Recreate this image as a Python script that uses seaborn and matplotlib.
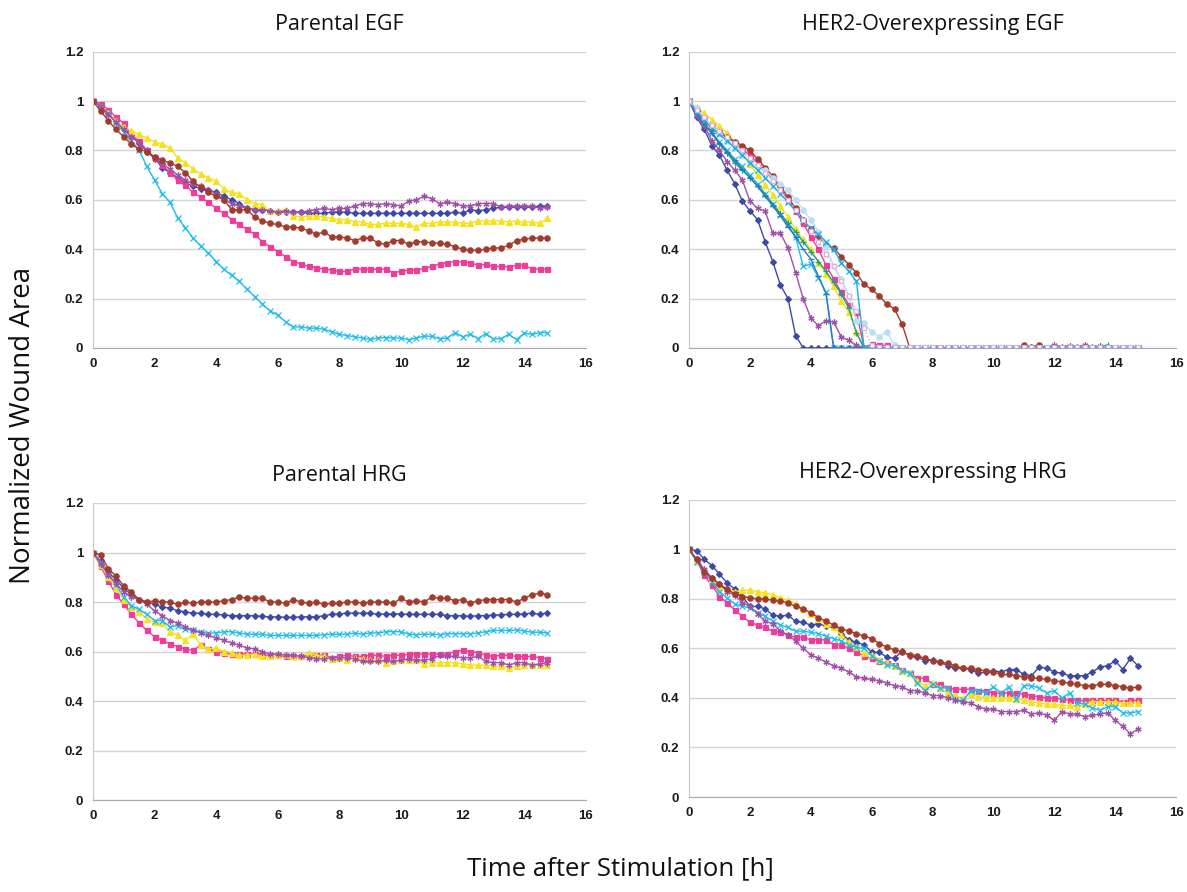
import numpy as np
import pandas as pd
import matplotlib
matplotlib.use("Agg")
import matplotlib.pyplot as plt
import seaborn as sns

# time axis: one frame every 15 min, 0 .. 14.75 h
time = [i * 0.25 for i in range(60)]

# colours / markers (Excel-like default series styles)
BLUE, PINK, YELLOW, CYAN, PURPLE, BROWN = '#3D49A6', '#F03C98', '#F4E21E', '#1FBDEB', '#A150A9', '#A33B2C'
TEAL, MIDBLUE, PALECYAN, CYAN2, PALEPINK = '#1F9C8C', '#2C74C4', '#B9E0F4', '#12AEEA', '#E3AEDB'
STAR = (6, 2, 0)

# ---------------- Parental EGF ----------------
pe_blue = [1, 0.98, 0.95, 0.92, 0.89, 0.86, 0.83, 0.795, 0.77, 0.73, 0.71, 0.69, 0.67, 0.655, 0.645,
           0.64, 0.63, 0.615, 0.60, 0.585, 0.565, 0.56, 0.56, 0.555, 0.55, 0.55, 0.55, 0.55, 0.545, 0.545,
           0.545, 0.55, 0.55, 0.55, 0.545, 0.545, 0.545, 0.545, 0.545, 0.545, 0.545, 0.545, 0.545, 0.545,
           0.545, 0.545, 0.545, 0.55, 0.545, 0.56, 0.555, 0.56, 0.565, 0.57, 0.57, 0.57, 0.57, 0.57, 0.575, 0.575]
pe_pink = [1, 0.99, 0.965, 0.935, 0.91, 0.86, 0.84, 0.80, 0.77, 0.74, 0.71, 0.68, 0.66, 0.63, 0.61,
           0.59, 0.565, 0.545, 0.52, 0.50, 0.48, 0.46, 0.43, 0.41, 0.39, 0.37, 0.35, 0.34, 0.33, 0.325,
           0.32, 0.315, 0.31, 0.31, 0.32, 0.32, 0.32, 0.318, 0.32, 0.305, 0.31, 0.316, 0.315, 0.322, 0.33,
           0.34, 0.345, 0.35, 0.348, 0.345, 0.335, 0.338, 0.33, 0.33, 0.328, 0.335, 0.335, 0.32, 0.32, 0.318]
pe_yellow = [1, 0.98, 0.95, 0.92, 0.895, 0.88, 0.865, 0.85, 0.835, 0.825, 0.81, 0.77, 0.75, 0.725, 0.705,
             0.69, 0.675, 0.645, 0.63, 0.625, 0.60, 0.585, 0.58, 0.555, 0.555, 0.56, 0.535, 0.53, 0.535, 0.535,
             0.53, 0.525, 0.52, 0.52, 0.51, 0.51, 0.50, 0.50, 0.505, 0.505, 0.505, 0.50, 0.49, 0.505, 0.505,
             0.51, 0.51, 0.51, 0.505, 0.505, 0.515, 0.515, 0.515, 0.515, 0.51, 0.515, 0.51, 0.51, 0.505, 0.525]
pe_cyan = [1, 0.98, 0.95, 0.91, 0.875, 0.84, 0.80, 0.735, 0.68, 0.625, 0.59, 0.527, 0.487, 0.444, 0.413,
           0.383, 0.35, 0.318, 0.294, 0.269, 0.238, 0.208, 0.177, 0.15, 0.133, 0.106, 0.085, 0.085, 0.08, 0.08,
           0.075, 0.065, 0.055, 0.05, 0.045, 0.04, 0.035, 0.04, 0.042, 0.04, 0.04, 0.033, 0.04, 0.048, 0.047,
           0.038, 0.04, 0.062, 0.045, 0.055, 0.038, 0.058, 0.036, 0.038, 0.055, 0.033, 0.06, 0.055, 0.062, 0.062]
pe_purple = [1, 0.98, 0.945, 0.915, 0.885, 0.855, 0.83, 0.80, 0.765, 0.745, 0.725, 0.70, 0.68, 0.665, 0.655,
             0.64, 0.625, 0.60, 0.585, 0.575, 0.565, 0.56, 0.56, 0.555, 0.55, 0.555, 0.55, 0.55, 0.555, 0.56,
             0.565, 0.56, 0.565, 0.565, 0.575, 0.585, 0.585, 0.58, 0.585, 0.58, 0.575, 0.595, 0.60, 0.615, 0.605,
             0.585, 0.59, 0.585, 0.575, 0.575, 0.585, 0.585, 0.585, 0.57, 0.575, 0.575, 0.575, 0.575, 0.565, 0.57]
pe_brown = [1, 0.96, 0.92, 0.885, 0.855, 0.825, 0.805, 0.795, 0.775, 0.76, 0.75, 0.735, 0.71, 0.675, 0.65,
            0.63, 0.615, 0.60, 0.56, 0.56, 0.56, 0.53, 0.515, 0.505, 0.50, 0.49, 0.49, 0.485, 0.475, 0.46,
            0.47, 0.45, 0.45, 0.445, 0.435, 0.445, 0.445, 0.425, 0.42, 0.435, 0.435, 0.42, 0.43, 0.43, 0.425,
            0.425, 0.42, 0.41, 0.40, 0.395, 0.395, 0.40, 0.405, 0.405, 0.415, 0.435, 0.44, 0.445, 0.445, 0.445]

# ---------------- HER2-Overexpressing EGF ----------------
he_blue = [1, 0.935, 0.885, 0.82, 0.78, 0.72, 0.665, 0.595, 0.555, 0.52, 0.43, 0.35, 0.255, 0.20, 0.05,
           0, 0, 0, 0, 0, 0, 0, 0, 0, 0, 0, 0, 0, 0, 0,
           0, 0, 0, 0, 0, 0, 0, 0, 0, 0, 0, 0, 0, 0, 0,
           0, 0, 0, 0, 0, 0, 0, 0, 0, 0, 0, 0, 0, 0, 0]
he_pink = [1, 0.96, 0.93, 0.90, 0.88, 0.855, 0.83, 0.805, 0.78, 0.75, 0.72, 0.685, 0.645, 0.60, 0.555,
           0.505, 0.45, 0.40, 0.335, 0.28, 0.225, 0.175, 0.145, 0.0, 0.015, 0.01, 0.01, 0, 0, 0,
           0, 0, 0, 0, 0, 0, 0, 0, 0, 0, 0, 0, 0, 0, 0,
           0, 0, 0, 0, 0, 0, 0, 0, 0, 0, 0, 0, 0, 0, 0]
he_yellow = [1, 0.975, 0.95, 0.925, 0.90, 0.87, 0.835, 0.79, 0.745, 0.70, 0.66, 0.62, 0.575, 0.53, 0.48,
             0.44, 0.40, 0.345, 0.30, 0.25, 0.19, 0.145, 0.065, 0, 0, 0, 0, 0, 0, 0,
             0, 0, 0, 0, 0, 0, 0, 0, 0, 0, 0, 0, 0, 0, 0,
             0, 0, 0, 0, 0, 0, 0, 0, 0, 0, 0, 0, 0, 0, 0]
he_cyan = [1, 0.95, 0.905, 0.87, 0.835, 0.80, 0.765, 0.735, 0.70, 0.665, 0.625, 0.585, 0.54, 0.50, 0.45,
           0.33, 0.34, 0.285, 0.225, 0, 0, 0, 0, 0, 0, 0, 0, 0, 0, 0,
           0, 0, 0, 0, 0, 0, 0, 0, 0, 0, 0, 0, 0, 0, 0,
           0, 0, 0, 0, 0, 0, 0, 0, 0, 0, 0, 0, 0, 0, 0]
he_purple = [1, 0.94, 0.90, 0.84, 0.80, 0.755, 0.72, 0.68, 0.595, 0.565, 0.555, 0.465, 0.465, 0.405, 0.305,
             0.20, 0.12, 0.09, 0.11, 0.105, 0.045, 0.03, 0.01, 0, 0, 0, 0, 0, 0, 0,
             0, 0, 0, 0, 0, 0, 0, 0, 0, 0, 0, 0, 0, 0, 0,
             0, 0, 0, 0.012, 0.005, 0.008, 0.005, 0.01, 0.005, 0.008, 0.005, 0, 0, 0, 0]
he_brown = [1, 0.96, 0.92, 0.89, 0.87, 0.855, 0.835, 0.82, 0.80, 0.765, 0.73, 0.695, 0.655, 0.61, 0.565,
            0.52, 0.48, 0.455, 0.415, 0.404, 0.37, 0.337, 0.304, 0.257, 0.237, 0.21, 0.177, 0.157, 0.096, 0,
            0, 0, 0, 0, 0, 0, 0, 0, 0, 0, 0, 0, 0, 0, 0.01,
            0.005, 0.01, 0, 0, 0, 0, 0, 0, 0, 0, 0, 0, 0, 0, 0]
he_teal = [1, 0.95, 0.91, 0.87, 0.825, 0.79, 0.75, 0.72, 0.69, 0.655, 0.62, 0.58, 0.545, 0.505, 0.47,
           0.43, 0.39, 0.35, 0.31, 0.265, 0.22, 0.16, 0.06, 0, 0, 0, 0, 0, 0, 0,
           0, 0, 0, 0, 0, 0, 0, 0, 0, 0, 0, 0, 0, 0, 0,
           0, 0, 0, 0, 0, 0, 0, 0, 0, 0.005, 0.012, 0, 0, 0, 0]
he_midblue = [1, 0.95, 0.91, 0.87, 0.83, 0.795, 0.76, 0.725, 0.69, 0.655, 0.615, 0.575, 0.535, 0.49, 0.45,
              0.40, 0.36, 0.29, 0.22, 0, 0, 0, 0, 0, 0, 0, 0, 0, 0, 0,
              0, 0, 0, 0, 0, 0, 0, 0, 0, 0, 0, 0, 0, 0, 0,
              0, 0, 0, 0, 0, 0, 0, 0, 0, 0, 0, 0, 0, 0, 0]
he_palecyan = [1, 0.97, 0.93, 0.90, 0.87, 0.84, 0.81, 0.78, 0.755, 0.735, 0.72, 0.69, 0.665, 0.64, 0.60,
               0.56, 0.52, 0.47, 0.41, 0.33, 0.28, 0.21, 0.11, 0.10, 0.063, 0.045, 0.066, 0.01, 0, 0,
               0, 0, 0, 0, 0, 0, 0, 0, 0, 0, 0, 0, 0, 0, 0,
               0, 0, 0, 0, 0, 0, 0, 0, 0, 0, 0, 0, 0, 0, 0]
he_cyan2 = [1, 0.955, 0.92, 0.89, 0.865, 0.84, 0.81, 0.78, 0.75, 0.72, 0.69, 0.655, 0.625, 0.59, 0.555,
            0.515, 0.485, 0.46, 0.43, 0.40, 0.345, 0.31, 0.27, 0, 0, 0, 0, 0, 0, 0,
            0, 0, 0, 0, 0, 0, 0, 0, 0, 0, 0, 0, 0, 0, 0,
            0, 0, 0, 0, 0, 0, 0, 0, 0, 0, 0, 0, 0, 0, 0]
he_palepink = [1, 0.965, 0.935, 0.905, 0.88, 0.855, 0.83, 0.80, 0.77, 0.74, 0.71, 0.675, 0.64, 0.60, 0.56,
               0.52, 0.475, 0.43, 0.38, 0.33, 0.27, 0.21, 0.15, 0.08, 0.01, 0.005, 0.005, 0.005, 0.005, 0.005,
               0.005, 0.005, 0.005, 0.005, 0.005, 0.005, 0.005, 0.005, 0.005, 0.005, 0.005, 0.005, 0.005, 0.005, 0.005,
               0.005, 0.005, 0.005, 0.005, 0.005, 0.005, 0.005, 0.005, 0.005, 0.005, 0.005, 0.005, 0.005, 0.005, 0.005]

# ---------------- Parental HRG ----------------
ph_blue = [1, 0.965, 0.92, 0.89, 0.855, 0.83, 0.81, 0.80, 0.79, 0.78, 0.775, 0.765, 0.76, 0.755, 0.755,
           0.75, 0.75, 0.748, 0.745, 0.745, 0.745, 0.745, 0.742, 0.74, 0.74, 0.738, 0.738, 0.74, 0.74, 0.74,
           0.745, 0.75, 0.752, 0.755, 0.755, 0.755, 0.755, 0.75, 0.752, 0.752, 0.752, 0.75, 0.75, 0.75, 0.75,
           0.75, 0.745, 0.745, 0.745, 0.742, 0.745, 0.745, 0.748, 0.748, 0.75, 0.75, 0.752, 0.755, 0.75, 0.757]
ph_pink = [1, 0.945, 0.885, 0.83, 0.79, 0.75, 0.715, 0.685, 0.66, 0.645, 0.63, 0.62, 0.61, 0.605, 0.625,
           0.61, 0.60, 0.595, 0.59, 0.59, 0.59, 0.59, 0.585, 0.585, 0.585, 0.58, 0.58, 0.58, 0.585, 0.585,
           0.585, 0.575, 0.58, 0.585, 0.58, 0.58, 0.585, 0.585, 0.58, 0.585, 0.585, 0.588, 0.59, 0.59, 0.59,
           0.59, 0.588, 0.60, 0.605, 0.60, 0.595, 0.585, 0.58, 0.585, 0.585, 0.58, 0.58, 0.58, 0.575, 0.57]
ph_yellow = [1, 0.95, 0.90, 0.855, 0.81, 0.78, 0.76, 0.73, 0.72, 0.715, 0.68, 0.665, 0.645, 0.67, 0.625,
             0.61, 0.615, 0.60, 0.595, 0.585, 0.585, 0.59, 0.58, 0.58, 0.585, 0.585, 0.58, 0.58, 0.595, 0.585,
             0.58, 0.57, 0.575, 0.565, 0.575, 0.57, 0.565, 0.565, 0.555, 0.56, 0.565, 0.565, 0.565, 0.55, 0.555,
             0.555, 0.555, 0.555, 0.55, 0.545, 0.545, 0.545, 0.54, 0.54, 0.535, 0.54, 0.545, 0.545, 0.545, 0.545]
ph_cyan = [1, 0.96, 0.91, 0.87, 0.82, 0.785, 0.77, 0.75, 0.725, 0.725, 0.70, 0.705, 0.69, 0.685, 0.68,
           0.675, 0.675, 0.68, 0.68, 0.675, 0.67, 0.67, 0.67, 0.665, 0.665, 0.665, 0.665, 0.665, 0.665, 0.665,
           0.668, 0.67, 0.67, 0.67, 0.675, 0.67, 0.675, 0.675, 0.68, 0.68, 0.68, 0.67, 0.668, 0.67, 0.67,
           0.668, 0.672, 0.672, 0.672, 0.672, 0.675, 0.68, 0.685, 0.685, 0.685, 0.687, 0.683, 0.678, 0.678, 0.675]
ph_purple = [1, 0.955, 0.91, 0.875, 0.84, 0.82, 0.81, 0.79, 0.765, 0.745, 0.725, 0.715, 0.70, 0.685, 0.675,
             0.665, 0.655, 0.645, 0.635, 0.625, 0.615, 0.61, 0.60, 0.59, 0.59, 0.585, 0.585, 0.58, 0.575, 0.57,
             0.57, 0.575, 0.575, 0.575, 0.57, 0.56, 0.56, 0.56, 0.565, 0.56, 0.565, 0.57, 0.565, 0.565, 0.57,
             0.585, 0.58, 0.58, 0.575, 0.575, 0.58, 0.56, 0.555, 0.555, 0.545, 0.555, 0.555, 0.545, 0.55, 0.555]
ph_brown = [1, 0.99, 0.935, 0.905, 0.865, 0.84, 0.81, 0.80, 0.805, 0.80, 0.80, 0.79, 0.80, 0.795, 0.80,
            0.80, 0.80, 0.805, 0.81, 0.82, 0.815, 0.815, 0.815, 0.80, 0.80, 0.795, 0.81, 0.80, 0.795, 0.80,
            0.79, 0.795, 0.795, 0.80, 0.80, 0.795, 0.80, 0.80, 0.80, 0.795, 0.815, 0.80, 0.805, 0.80, 0.82,
            0.815, 0.815, 0.805, 0.81, 0.795, 0.805, 0.81, 0.81, 0.81, 0.81, 0.80, 0.815, 0.83, 0.835, 0.83]

# ---------------- HER2-Overexpressing HRG ----------------
hh_blue = [1, 0.995, 0.96, 0.935, 0.90, 0.865, 0.84, 0.81, 0.77, 0.77, 0.76, 0.735, 0.73, 0.735, 0.71,
           0.705, 0.695, 0.70, 0.69, 0.685, 0.66, 0.635, 0.625, 0.615, 0.585, 0.585, 0.565, 0.56, 0.59, 0.57,
           0.565, 0.55, 0.555, 0.545, 0.53, 0.52, 0.52, 0.515, 0.50, 0.505, 0.51, 0.505, 0.515, 0.515, 0.495,
           0.49, 0.525, 0.52, 0.505, 0.50, 0.49, 0.49, 0.49, 0.505, 0.525, 0.53, 0.55, 0.515, 0.56, 0.53]
hh_pink = [1, 0.955, 0.895, 0.855, 0.81, 0.785, 0.755, 0.73, 0.705, 0.695, 0.685, 0.67, 0.665, 0.655, 0.645,
           0.645, 0.635, 0.635, 0.635, 0.615, 0.615, 0.60, 0.585, 0.57, 0.56, 0.55, 0.54, 0.535, 0.515, 0.50,
           0.48, 0.48, 0.455, 0.455, 0.44, 0.435, 0.435, 0.435, 0.43, 0.43, 0.42, 0.42, 0.42, 0.42, 0.415,
           0.41, 0.405, 0.40, 0.40, 0.395, 0.39, 0.39, 0.39, 0.39, 0.39, 0.39, 0.39, 0.385, 0.39, 0.39]
hh_yellow = [1, 0.955, 0.915, 0.88, 0.85, 0.84, 0.83, 0.835, 0.835, 0.83, 0.825, 0.815, 0.805, 0.795, 0.78,
             0.76, 0.74, 0.72, 0.70, 0.685, 0.655, 0.625, 0.605, 0.58, 0.575, 0.555, 0.54, 0.53, 0.51, 0.50,
             0.47, 0.45, 0.46, 0.44, 0.42, 0.41, 0.40, 0.415, 0.405, 0.40, 0.40, 0.40, 0.40, 0.395, 0.39,
             0.385, 0.38, 0.375, 0.375, 0.37, 0.37, 0.365, 0.375, 0.385, 0.385, 0.385, 0.385, 0.38, 0.38, 0.38]
hh_cyan = [1, 0.95, 0.91, 0.87, 0.83, 0.805, 0.78, 0.77, 0.765, 0.745, 0.73, 0.71, 0.695, 0.685, 0.67,
           0.67, 0.665, 0.66, 0.65, 0.64, 0.63, 0.615, 0.605, 0.60, 0.57, 0.55, 0.535, 0.53, 0.51, 0.50,
           0.46, 0.43, 0.455, 0.44, 0.44, 0.39, 0.39, 0.43, 0.43, 0.42, 0.445, 0.42, 0.445, 0.395, 0.45,
           0.45, 0.44, 0.42, 0.43, 0.40, 0.42, 0.38, 0.375, 0.36, 0.35, 0.365, 0.365, 0.34, 0.34, 0.345]
hh_purple = [1, 0.96, 0.92, 0.885, 0.86, 0.83, 0.815, 0.785, 0.77, 0.74, 0.71, 0.70, 0.67, 0.655, 0.63,
             0.60, 0.575, 0.56, 0.545, 0.53, 0.52, 0.505, 0.485, 0.48, 0.475, 0.47, 0.46, 0.45, 0.445, 0.43,
             0.43, 0.42, 0.41, 0.41, 0.40, 0.39, 0.385, 0.38, 0.365, 0.355, 0.355, 0.345, 0.345, 0.345, 0.35,
             0.335, 0.34, 0.33, 0.31, 0.345, 0.335, 0.335, 0.325, 0.33, 0.335, 0.34, 0.31, 0.285, 0.255, 0.275]
hh_brown = [1, 0.96, 0.91, 0.885, 0.86, 0.84, 0.82, 0.81, 0.805, 0.80, 0.80, 0.795, 0.79, 0.785, 0.77,
            0.76, 0.745, 0.725, 0.71, 0.695, 0.68, 0.67, 0.66, 0.65, 0.64, 0.62, 0.605, 0.595, 0.585, 0.575,
            0.57, 0.56, 0.55, 0.545, 0.54, 0.53, 0.52, 0.52, 0.515, 0.51, 0.505, 0.495, 0.495, 0.49, 0.485,
            0.48, 0.48, 0.475, 0.47, 0.465, 0.46, 0.455, 0.45, 0.45, 0.455, 0.455, 0.45, 0.445, 0.44, 0.445]

# (values, colour, marker, linestyle, filled)
panels = [
    ('Parental EGF', [(pe_blue, BLUE, 'D', '-', True), (pe_pink, PINK, 's', '-', True),
                      (pe_yellow, YELLOW, '^', '-', True), (pe_cyan, CYAN, 'x', '-', True),
                      (pe_purple, PURPLE, STAR, '-', True), (pe_brown, BROWN, 'o', '-', True)]),
    ('HER2-Overexpressing EGF', [(he_blue, BLUE, 'D', '-', True), (he_pink, PINK, 's', '-', True),
                                 (he_yellow, YELLOW, '^', '-', True), (he_cyan, CYAN, 'x', '-', True),
                                 (he_purple, PURPLE, STAR, '-', True), (he_brown, BROWN, 'o', '-', True),
                                 (he_teal, TEAL, '+', '-', True), (he_midblue, MIDBLUE, '_', '-', True),
                                 (he_palecyan, PALECYAN, 'o', '-', True), (he_cyan2, CYAN2, 'x', '-', True),
                                 (he_palepink, PALEPINK, 's', ':', False)]),
    ('Parental HRG', [(ph_blue, BLUE, 'D', '-', True), (ph_pink, PINK, 's', '-', True),
                      (ph_yellow, YELLOW, '^', '-', True), (ph_cyan, CYAN, 'x', '-', True),
                      (ph_purple, PURPLE, STAR, '-', True), (ph_brown, BROWN, 'o', '-', True)]),
    ('HER2-Overexpressing HRG', [(hh_blue, BLUE, 'D', '-', True), (hh_pink, PINK, 's', '-', True),
                                 (hh_yellow, YELLOW, '^', '-', True), (hh_cyan, CYAN, 'x', '-', True),
                                 (hh_purple, PURPLE, STAR, '-', True), (hh_brown, BROWN, 'o', '-', True)]),
]

marker_size = {'D': 3.0, 's': 3.6, '^': 4.0, 'x': 4.0, 'o': 3.8, '+': 4.2, '_': 4.2}

# axes boxes in figure fractions [left, bottom, width, height]
boxes = [[0.0783, 0.610, 0.4153, 0.332], [0.5805, 0.610, 0.4103, 0.332],
         [0.0783, 0.1031, 0.4153, 0.333], [0.5805, 0.1065, 0.4103, 0.333]]

sns.set_style('white')
plt.rcParams['font.family'] = ['Open Sans', 'DejaVu Sans']

fig = plt.figure(figsize=(11.87, 8.92), dpi=100)

for (title, series), box in zip(panels, boxes):
    ax = fig.add_axes(box)
    for vals, col, mk, ls, filled in series:
        assert len(vals) == len(time)
        ms = marker_size.get(mk, 4.2) if isinstance(mk, str) else 4.4
        sns.lineplot(x=time, y=vals, ax=ax, color=col, linewidth=1.0, linestyle=ls,
                     marker=mk, markersize=ms if filled else 3.0, markeredgecolor=col,
                     markerfacecolor=col if filled else 'white', markeredgewidth=0.9)
    ax.set_xlim(0, 16)
    ax.set_ylim(0, 1.2)
    ax.set_xticks(range(0, 17, 2))
    ax.set_yticks([0, 0.2, 0.4, 0.6, 0.8, 1.0, 1.2])
    ax.set_yticklabels(['0', '0.2', '0.4', '0.6', '0.8', '1', '1.2'])
    ax.yaxis.grid(True, color='#D4D4D4', linewidth=1.0)
    ax.set_axisbelow(True)
    for s in ['top', 'right']:
        ax.spines[s].set_visible(False)
    ax.spines['left'].set_color('#C8C8C8')
    ax.spines['bottom'].set_color('#A8A8A8')
    ax.tick_params(axis='both', length=3, width=0.8, color='#A8A8A8', pad=4)
    for lab in ax.get_xticklabels() + ax.get_yticklabels():
        lab.set_fontfamily('Liberation Sans')
        lab.set_fontweight('bold')
        lab.set_fontsize(9.5)
        lab.set_color('#1A1A1A')
    ax.set_xlabel('')
    ax.set_ylabel('')
    ax.set_title(title, fontsize=15.5, pad=16, color='#111111')

fig.text(0.523, 0.012, 'Time after Stimulation [h]', ha='center', va='bottom', fontsize=18.5, color='#111111')
fig.text(0.019, 0.523, 'Normalized Wound Area', ha='center', va='center', rotation=90,
         fontsize=20, color='#111111')

fig.savefig('out.png', dpi=100, facecolor='white')
